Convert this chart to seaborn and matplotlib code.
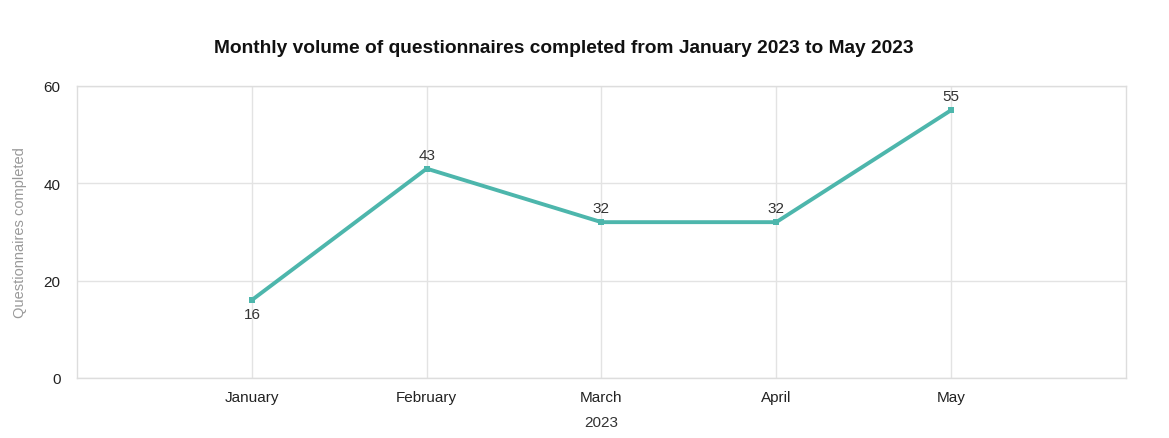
import numpy as np
import pandas as pd
import matplotlib
matplotlib.use("Agg")
import matplotlib.pyplot as plt
import seaborn as sns

# data
months = ["January", "February", "March", "April", "May"]
completed = [16, 43, 32, 32, 55]
label_above = [False, True, True, True, True]

df = pd.DataFrame({"month": months, "completed": completed})

sns.set_style("whitegrid")
plt.rcParams["font.family"] = ["Liberation Sans", "DejaVu Sans"]

fig = plt.figure(figsize=(11.69, 4.39), dpi=100)
ax = fig.add_axes([0.066, 0.137, 0.897, 0.665])

line_color = "#4db6ac"
sns.lineplot(data=df, x="month", y="completed", ax=ax, color=line_color,
             linewidth=2.8, marker="s", markersize=4.5, markeredgewidth=0,
             sort=False)

# value labels
for i, (v, up) in enumerate(zip(completed, label_above)):
    if up:
        ax.annotate(str(v), (i, v), xytext=(0, 5), textcoords="offset points",
                    ha="center", va="bottom", fontsize=11, color="#333333")
    else:
        ax.annotate(str(v), (i, v), xytext=(0, -5), textcoords="offset points",
                    ha="center", va="top", fontsize=11, color="#333333")

ax.set_xlim(-1, 5)
ax.set_ylim(0, 60)
ax.set_xticks(range(len(months)))
ax.set_xticklabels(months)
ax.set_yticks([0, 20, 40, 60])
ax.tick_params(axis="both", labelsize=11, colors="#222222", length=0, pad=9)
ax.tick_params(axis="y", pad=12)

ax.grid(True, color="#e3e3e3", linewidth=1)
for s in ax.spines.values():
    s.set_color("#dddddd")
    s.set_linewidth(1)

ax.set_xlabel("2023", fontsize=11, color="#333333", labelpad=8)
ax.set_ylabel("Questionnaires completed", fontsize=10.5, color="#999999", labelpad=12)

fig.suptitle("Monthly volume of questionnaires completed from January 2023 to May 2023",
             fontsize=13.8, fontweight="bold", x=0.482, y=0.91, color="#111111")

fig.savefig("out.png", dpi=100, facecolor="white")
